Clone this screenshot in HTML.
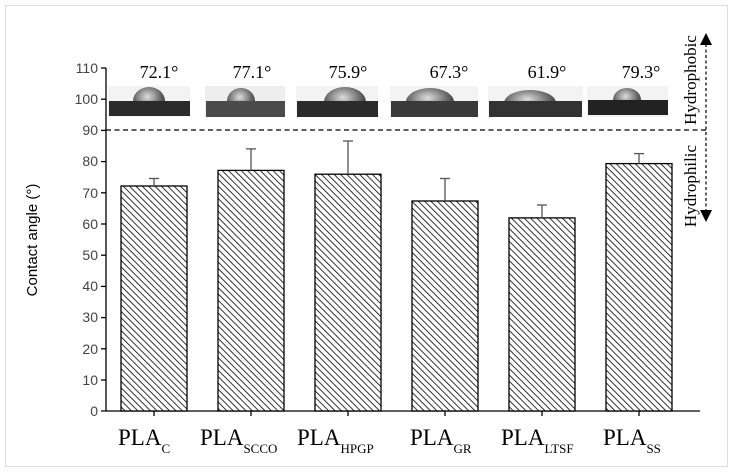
<!DOCTYPE html>
<html><head><style>
body{margin:0;background:#fff;width:737px;height:476px;overflow:hidden}
svg{display:block}
</style></head><body>
<svg width="737" height="476" viewBox="0 0 737 476" xmlns="http://www.w3.org/2000/svg">
<defs>
<pattern id="h" patternUnits="userSpaceOnUse" width="4.5" height="4.5" patternTransform="rotate(-45)">
<rect width="4.5" height="4.5" fill="#fff"/><line x1="0" y1="0" x2="0" y2="4.5" stroke="#000" stroke-width="1.6"/>
</pattern>
<radialGradient id="d" cx="0.45" cy="0.35" r="0.7"><stop offset="0" stop-color="#ddd"/><stop offset="0.6" stop-color="#666"/><stop offset="1" stop-color="#222"/></radialGradient>
</defs>
<rect x="5.5" y="5.5" width="722" height="461" fill="none" stroke="#ddd"/>
<g font-family="Liberation Sans, sans-serif" font-size="14" fill="#444" text-anchor="end">
<text x="98" y="416">0</text><text x="98" y="385">10</text><text x="98" y="354">20</text><text x="98" y="322">30</text><text x="98" y="291">40</text><text x="98" y="260">50</text><text x="98" y="229">60</text><text x="98" y="198">70</text><text x="98" y="166">80</text><text x="98" y="135">90</text><text x="98" y="104">100</text><text x="98" y="73">110</text>
</g>
<g stroke="#000" stroke-width="1.3">
<line x1="106" y1="68" x2="106" y2="411"/>
<line x1="101" y1="68" x2="106" y2="68"/><line x1="101" y1="99.2" x2="106" y2="99.2"/><line x1="101" y1="130.4" x2="106" y2="130.4"/><line x1="101" y1="161.6" x2="106" y2="161.6"/><line x1="101" y1="192.8" x2="106" y2="192.8"/><line x1="101" y1="224" x2="106" y2="224"/><line x1="101" y1="255.2" x2="106" y2="255.2"/><line x1="101" y1="286.4" x2="106" y2="286.4"/><line x1="101" y1="317.6" x2="106" y2="317.6"/><line x1="101" y1="348.8" x2="106" y2="348.8"/><line x1="101" y1="380" x2="106" y2="380"/>
<line x1="101" y1="411" x2="700" y2="411"/>
<line x1="154" y1="411" x2="154" y2="416"/><line x1="251" y1="411" x2="251" y2="416"/><line x1="348" y1="411" x2="348" y2="416"/><line x1="445" y1="411" x2="445" y2="416"/><line x1="542" y1="411" x2="542" y2="416"/><line x1="639" y1="411" x2="639" y2="416"/>
</g>
<text transform="translate(37,240) rotate(-90)" font-family="Liberation Sans, sans-serif" font-size="15" text-anchor="middle" fill="#000">Contact angle (°)</text>
<g stroke="#000" stroke-width="1.3" fill="url(#h)">
<rect x="121" y="186" width="66" height="225"/>
<rect x="218" y="170.4" width="66" height="240.6"/>
<rect x="315" y="174.2" width="66" height="236.8"/>
<rect x="412" y="201" width="66" height="210"/>
<rect x="509" y="217.9" width="66" height="193.1"/>
<rect x="606" y="163.6" width="66" height="247.4"/>
</g>
<g stroke="#555" stroke-width="1.3">
<line x1="154" y1="186" x2="154" y2="178.5"/><line x1="149" y1="178.5" x2="159" y2="178.5"/>
<line x1="251" y1="170.4" x2="251" y2="148.9"/><line x1="246" y1="148.9" x2="256" y2="148.9"/>
<line x1="348" y1="174.2" x2="348" y2="141"/><line x1="343" y1="141" x2="353" y2="141"/>
<line x1="445" y1="201" x2="445" y2="178.5"/><line x1="440" y1="178.5" x2="450" y2="178.5"/>
<line x1="542" y1="217.9" x2="542" y2="205"/><line x1="537" y1="205" x2="547" y2="205"/>
<line x1="639" y1="163.6" x2="639" y2="153.6"/><line x1="634" y1="153.6" x2="644" y2="153.6"/>
</g>
<g>
<rect x="108" y="86" width="82" height="31" fill="#f3f3f3"/>
<rect x="205" y="86" width="80" height="31" fill="#eee"/>
<rect x="296" y="86" width="82" height="31" fill="#f3f3f3"/>
<rect x="390" y="86" width="88" height="31" fill="#f3f3f3"/>
<rect x="488" y="86" width="95" height="31" fill="#f3f3f3"/>
<rect x="587" y="86" width="81" height="31" fill="#f3f3f3"/>
<ellipse cx="149" cy="101" rx="16" ry="14" fill="url(#d)"/>
<ellipse cx="241" cy="101" rx="14" ry="13" fill="url(#d)"/>
<ellipse cx="345" cy="102" rx="21" ry="15" fill="url(#d)"/>
<ellipse cx="430" cy="102" rx="24" ry="14" fill="url(#d)"/>
<ellipse cx="530" cy="103" rx="26" ry="13" fill="url(#d)"/>
<ellipse cx="627" cy="100" rx="14" ry="12" fill="url(#d)"/>
<rect x="109" y="101" width="81" height="15" fill="#2b2b2b"/>
<rect x="206" y="101" width="79" height="16" fill="#4a4a4a"/>
<rect x="297" y="101" width="81" height="16" fill="#2b2b2b"/>
<rect x="391" y="101" width="87" height="16" fill="#3a3a3a"/>
<rect x="489" y="101" width="93" height="16" fill="#333"/>
<rect x="588" y="100" width="80" height="15" fill="#222"/>
</g>
<g font-family="Liberation Serif, serif" font-size="18" text-anchor="middle" fill="#000">
<text x="159" y="78">72.1°</text><text x="252" y="78">77.1°</text><text x="348" y="78">75.9°</text><text x="449" y="78">67.3°</text><text x="547" y="78">61.9°</text><text x="641" y="78">79.3°</text>
</g>
<line x1="106" y1="130" x2="706" y2="130" stroke="#000" stroke-width="1.3" stroke-dasharray="5,3.5"/>
<line x1="706" y1="44" x2="706" y2="212" stroke="#000" stroke-width="1.2" stroke-dasharray="3,2.5"/>
<polygon points="706,33 700,45 712,45" fill="#000"/>
<polygon points="706,222 700,210 712,210" fill="#000"/>
<g font-family="Liberation Serif, serif" font-size="17" fill="#000" text-anchor="middle">
<text transform="translate(696,80) rotate(-90)">Hydrophobic</text>
<text transform="translate(696,186) rotate(-90)">Hydrophilic</text>
</g>
<g font-family="Liberation Serif, serif" font-size="23" fill="#000">
<text x="118" y="445">PLA<tspan font-size="13" dy="8">C</tspan></text>
<text x="200" y="445">PLA<tspan font-size="13" dy="8">SCCO</tspan></text>
<text x="297" y="445">PLA<tspan font-size="13" dy="8">HPGP</tspan></text>
<text x="410" y="445">PLA<tspan font-size="13" dy="8">GR</tspan></text>
<text x="501" y="445">PLA<tspan font-size="13" dy="8">LTSF</tspan></text>
<text x="603" y="445">PLA<tspan font-size="13" dy="8">SS</tspan></text>
</g>
</svg>
</body></html>
